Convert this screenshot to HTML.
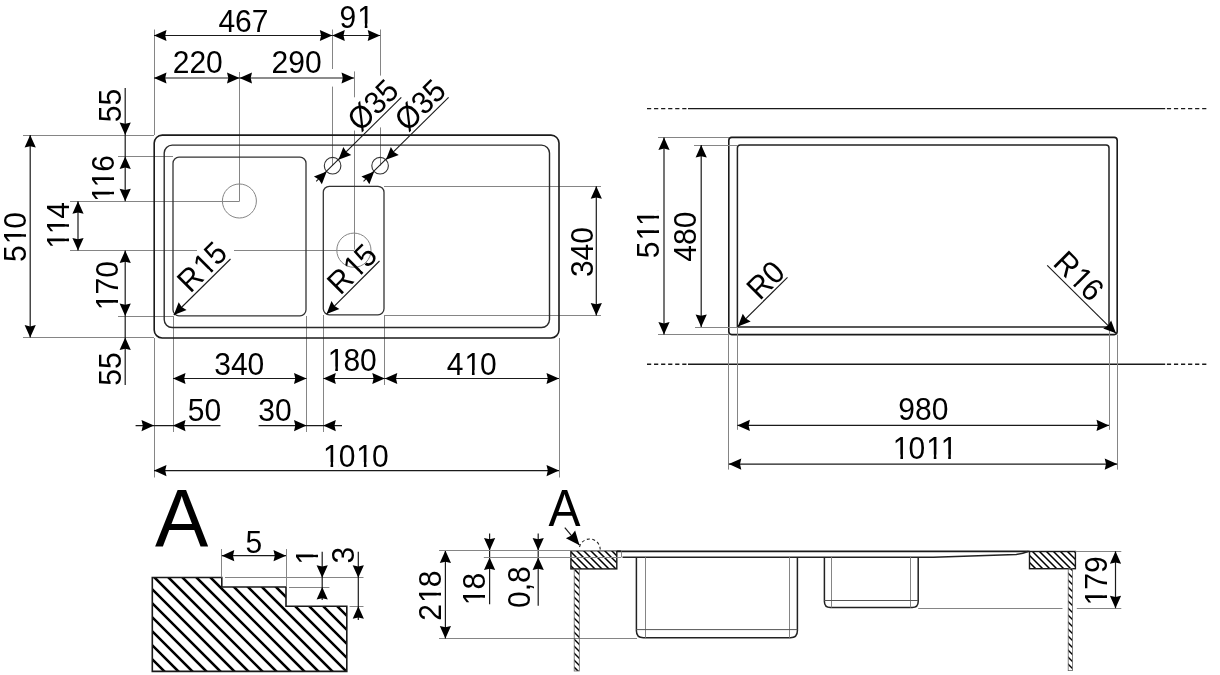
<!DOCTYPE html>
<html><head><meta charset="utf-8"><style>
html,body{margin:0;padding:0;background:#fff;}
svg{display:block;will-change:transform;}
text{font-family:"Liberation Sans",sans-serif;}
</style></head><body>
<svg width="1220" height="675" viewBox="0 0 1220 675">
<rect width="1220" height="675" fill="#fff"/>
<line x1="23.00" y1="135.50" x2="154.00" y2="135.50" stroke="#858585" stroke-width="1.0" />
<line x1="23.00" y1="337.50" x2="154.00" y2="337.50" stroke="#858585" stroke-width="1.0" />
<line x1="118.00" y1="156.50" x2="173.00" y2="156.50" stroke="#858585" stroke-width="1.0" />
<line x1="118.00" y1="316.50" x2="173.00" y2="316.50" stroke="#858585" stroke-width="1.0" />
<line x1="70.00" y1="201.50" x2="239.50" y2="201.50" stroke="#858585" stroke-width="1.0" />
<line x1="70.00" y1="250.50" x2="197.00" y2="250.50" stroke="#858585" stroke-width="1.0" />
<line x1="234.00" y1="250.50" x2="354.00" y2="250.50" stroke="#858585" stroke-width="1.0" />
<line x1="384.00" y1="186.50" x2="601.00" y2="186.50" stroke="#858585" stroke-width="1.0" />
<line x1="384.00" y1="315.50" x2="601.00" y2="315.50" stroke="#858585" stroke-width="1.0" />
<line x1="154.50" y1="29.50" x2="154.50" y2="135.00" stroke="#858585" stroke-width="1.0" />
<line x1="154.50" y1="338.00" x2="154.50" y2="477.50" stroke="#858585" stroke-width="1.0" />
<line x1="239.50" y1="72.00" x2="239.50" y2="201.30" stroke="#858585" stroke-width="1.0" />
<line x1="332.50" y1="29.50" x2="332.50" y2="69.00" stroke="#858585" stroke-width="1.0" />
<line x1="332.50" y1="86.60" x2="332.50" y2="165.60" stroke="#858585" stroke-width="1.0" />
<line x1="354.50" y1="71.40" x2="354.50" y2="97.30" stroke="#858585" stroke-width="1.0" />
<line x1="354.50" y1="130.50" x2="354.50" y2="249.60" stroke="#858585" stroke-width="1.0" />
<line x1="380.50" y1="29.50" x2="380.50" y2="75.60" stroke="#858585" stroke-width="1.0" />
<line x1="380.50" y1="127.40" x2="380.50" y2="165.60" stroke="#858585" stroke-width="1.0" />
<line x1="173.50" y1="316.00" x2="173.50" y2="432.00" stroke="#858585" stroke-width="1.0" />
<line x1="306.50" y1="316.00" x2="306.50" y2="432.00" stroke="#858585" stroke-width="1.0" />
<line x1="323.50" y1="315.00" x2="323.50" y2="432.00" stroke="#858585" stroke-width="1.0" />
<line x1="384.50" y1="315.00" x2="384.50" y2="385.00" stroke="#858585" stroke-width="1.0" />
<line x1="559.50" y1="338.00" x2="559.50" y2="477.50" stroke="#858585" stroke-width="1.0" />
<rect x="154.20" y="135.10" width="404.80" height="202.90" rx="8" fill="none" stroke="#1a1a1a" stroke-width="1.6"/>
<rect x="164.20" y="145.10" width="385.30" height="182.40" rx="8" fill="none" stroke="#2a2a2a" stroke-width="1.4"/>
<rect x="173.00" y="157.20" width="133.00" height="158.60" rx="6" fill="none" stroke="#333" stroke-width="1.3"/>
<rect x="323.30" y="186.30" width="60.70" height="128.50" rx="6" fill="none" stroke="#333" stroke-width="1.3"/>
<circle cx="239.40" cy="201.00" r="17.00" fill="none" stroke="#858585" stroke-width="1.0"/>
<circle cx="353.90" cy="250.20" r="17.10" fill="none" stroke="#858585" stroke-width="1.0"/>
<circle cx="332.60" cy="165.70" r="8.30" fill="none" stroke="#333" stroke-width="1.1"/>
<circle cx="380.10" cy="165.70" r="8.30" fill="none" stroke="#333" stroke-width="1.1"/>
<line x1="154.00" y1="35.50" x2="332.30" y2="35.50" stroke="#1a1a1a" stroke-width="1.2" />
<polygon points="154.00,35.50 166.50,29.90 165.20,35.50 166.50,41.10" fill="#000"/>
<polygon points="332.30,35.50 319.80,41.10 321.10,35.50 319.80,29.90" fill="#000"/>
<g transform="translate(243.00,21.00) rotate(0) scale(1,1.06)"><text x="-24.62" y="10.33" font-size="30" fill="#000">467</text></g>
<line x1="332.30" y1="35.50" x2="380.20" y2="35.50" stroke="#1a1a1a" stroke-width="1.2" />
<polygon points="332.30,35.50 344.80,29.90 343.50,35.50 344.80,41.10" fill="#000"/>
<polygon points="380.20,35.50 367.70,41.10 369.00,35.50 367.70,29.90" fill="#000"/>
<g transform="translate(356.70,17.20) rotate(0) scale(1,1.06)"><clipPath id="c1_1"><path clip-rule="evenodd" d="M-500,-500 H500 V500 H-500 Z M1.99,5.93 H8.07 V12.52 H1.99 Z M10.72,5.93 H16.35 V12.52 H10.72 Z"/></clipPath><text x="-17.15" y="10.33" dx="0.000 0.996" font-size="30" fill="#000" clip-path="url(#c1_1)">91</text></g>
<line x1="154.00" y1="78.00" x2="239.50" y2="78.00" stroke="#1a1a1a" stroke-width="1.2" />
<polygon points="154.00,78.00 166.50,72.40 165.20,78.00 166.50,83.60" fill="#000"/>
<polygon points="239.50,78.00 227.00,83.60 228.30,78.00 227.00,72.40" fill="#000"/>
<g transform="translate(197.90,62.30) rotate(0) scale(1,1.06)"><text x="-25.20" y="10.33" font-size="30" fill="#000">220</text></g>
<line x1="239.50" y1="78.00" x2="354.00" y2="78.00" stroke="#1a1a1a" stroke-width="1.2" />
<polygon points="239.50,78.00 252.00,72.40 250.70,78.00 252.00,83.60" fill="#000"/>
<polygon points="354.00,78.00 341.50,83.60 342.80,78.00 341.50,72.40" fill="#000"/>
<g transform="translate(296.80,62.30) rotate(0) scale(1,1.06)"><text x="-25.20" y="10.33" font-size="30" fill="#000">290</text></g>
<line x1="125.20" y1="88.00" x2="125.20" y2="201.30" stroke="#1a1a1a" stroke-width="1.2" />
<polygon points="125.20,135.00 119.60,122.50 125.20,123.80 130.80,122.50" fill="#000"/>
<polygon points="125.20,156.40 130.80,168.90 125.20,167.60 119.60,168.90" fill="#000"/>
<polygon points="125.20,201.30 119.60,188.80 125.20,190.10 130.80,188.80" fill="#000"/>
<line x1="125.20" y1="250.50" x2="125.20" y2="385.00" stroke="#1a1a1a" stroke-width="1.2" />
<polygon points="125.20,250.50 130.80,263.00 125.20,261.70 119.60,263.00" fill="#000"/>
<polygon points="125.20,316.00 119.60,303.50 125.20,304.80 130.80,303.50" fill="#000"/>
<polygon points="125.20,337.60 130.80,350.10 125.20,348.80 119.60,350.10" fill="#000"/>
<g transform="translate(110.10,105.50) rotate(-90) scale(1,1.06)"><text x="-16.66" y="10.17" font-size="30" fill="#000">55</text></g>
<g transform="translate(103.40,178.00) rotate(-90) scale(1,1.06)"><clipPath id="c1_2"><path clip-rule="evenodd" d="M-500,-500 H500 V500 H-500 Z M-22.43,5.93 H-16.35 V12.52 H-22.43 Z M-13.70,5.93 H-8.08 V12.52 H-13.70 Z M-7.98,5.93 H-1.90 V12.52 H-7.98 Z M0.75,5.93 H6.38 V12.52 H0.75 Z"/></clipPath><text x="-24.90" y="10.33" dx="0.996 0.000 -0.996" font-size="30" fill="#000" clip-path="url(#c1_2)">116</text></g>
<g transform="translate(106.90,285.10) rotate(-90) scale(1,1.06)"><clipPath id="c1_3"><path clip-rule="evenodd" d="M-500,-500 H500 V500 H-500 Z M-23.62,5.93 H-17.54 V12.52 H-23.62 Z M-14.89,5.93 H-9.27 V12.52 H-14.89 Z"/></clipPath><text x="-26.08" y="10.33" dx="0.996 -0.996 0.000" font-size="30" fill="#000" clip-path="url(#c1_3)">170</text></g>
<g transform="translate(110.10,369.10) rotate(-90) scale(1,1.06)"><text x="-16.66" y="10.17" font-size="30" fill="#000">55</text></g>
<line x1="78.00" y1="201.30" x2="78.00" y2="250.50" stroke="#1a1a1a" stroke-width="1.2" />
<polygon points="78.00,201.30 83.60,213.80 78.00,212.50 72.40,213.80" fill="#000"/>
<polygon points="78.00,250.50 72.40,238.00 78.00,239.30 83.60,238.00" fill="#000"/>
<g transform="translate(58.40,224.70) rotate(-90) scale(1,1.06)"><clipPath id="c1_4"><path clip-rule="evenodd" d="M-500,-500 H500 V500 H-500 Z M-22.65,5.93 H-16.57 V12.52 H-22.65 Z M-13.92,5.93 H-8.30 V12.52 H-13.92 Z M-8.20,5.93 H-2.12 V12.52 H-8.20 Z M0.53,5.93 H6.16 V12.52 H0.53 Z"/></clipPath><text x="-25.11" y="10.32" dx="0.996 0.000 -0.996" font-size="30" fill="#000" clip-path="url(#c1_4)">114</text></g>
<line x1="30.20" y1="135.00" x2="30.20" y2="337.60" stroke="#1a1a1a" stroke-width="1.2" />
<polygon points="30.20,135.00 35.80,147.50 30.20,146.20 24.60,147.50" fill="#000"/>
<polygon points="30.20,337.60 24.60,325.10 30.20,326.40 35.80,325.10" fill="#000"/>
<g transform="translate(15.00,237.00) rotate(-90) scale(1,1.06)"><clipPath id="c1_5"><path clip-rule="evenodd" d="M-500,-500 H500 V500 H-500 Z M-5.90,5.93 H0.18 V12.52 H-5.90 Z M2.83,5.93 H8.46 V12.52 H2.83 Z"/></clipPath><text x="-25.04" y="10.33" dx="0.000 0.996 -0.996" font-size="30" fill="#000" clip-path="url(#c1_5)">510</text></g>
<line x1="173.00" y1="378.50" x2="306.50" y2="378.50" stroke="#1a1a1a" stroke-width="1.2" />
<polygon points="173.00,378.50 185.50,372.90 184.20,378.50 185.50,384.10" fill="#000"/>
<polygon points="306.50,378.50 294.00,384.10 295.30,378.50 294.00,372.90" fill="#000"/>
<g transform="translate(239.20,363.70) rotate(0) scale(1,1.06)"><text x="-25.01" y="10.33" font-size="30" fill="#000">340</text></g>
<line x1="323.30" y1="378.50" x2="384.80" y2="378.50" stroke="#1a1a1a" stroke-width="1.2" />
<polygon points="323.30,378.50 335.80,372.90 334.50,378.50 335.80,384.10" fill="#000"/>
<polygon points="384.80,378.50 372.30,384.10 373.60,378.50 372.30,372.90" fill="#000"/>
<g transform="translate(352.80,360.30) rotate(0) scale(1,1.06)"><clipPath id="c1_6"><path clip-rule="evenodd" d="M-500,-500 H500 V500 H-500 Z M-23.62,5.93 H-17.54 V12.52 H-23.62 Z M-14.89,5.93 H-9.27 V12.52 H-14.89 Z"/></clipPath><text x="-26.08" y="10.33" dx="0.996 -0.996 0.000" font-size="30" fill="#000" clip-path="url(#c1_6)">180</text></g>
<line x1="384.80" y1="378.50" x2="559.00" y2="378.50" stroke="#1a1a1a" stroke-width="1.2" />
<polygon points="384.80,378.50 397.30,372.90 396.00,378.50 397.30,384.10" fill="#000"/>
<polygon points="559.00,378.50 546.50,384.10 547.80,378.50 546.50,372.90" fill="#000"/>
<g transform="translate(471.50,363.70) rotate(0) scale(1,1.06)"><clipPath id="c1_7"><path clip-rule="evenodd" d="M-500,-500 H500 V500 H-500 Z M-5.64,5.93 H0.44 V12.52 H-5.64 Z M3.09,5.93 H8.72 V12.52 H3.09 Z"/></clipPath><text x="-24.79" y="10.33" dx="0.000 0.996 -0.996" font-size="30" fill="#000" clip-path="url(#c1_7)">410</text></g>
<line x1="135.60" y1="425.60" x2="220.50" y2="425.60" stroke="#1a1a1a" stroke-width="1.2" />
<polygon points="154.00,425.60 141.50,431.20 142.80,425.60 141.50,420.00" fill="#000"/>
<polygon points="173.00,425.60 185.50,420.00 184.20,425.60 185.50,431.20" fill="#000"/>
<g transform="translate(204.50,410.50) rotate(0) scale(1,1.06)"><text x="-16.70" y="10.33" font-size="30" fill="#000">50</text></g>
<line x1="258.60" y1="425.60" x2="342.00" y2="425.60" stroke="#1a1a1a" stroke-width="1.2" />
<polygon points="306.50,425.60 294.00,431.20 295.30,425.60 294.00,420.00" fill="#000"/>
<polygon points="323.30,425.60 335.80,420.00 334.50,425.60 335.80,431.20" fill="#000"/>
<g transform="translate(275.00,410.50) rotate(0) scale(1,1.06)"><text x="-16.67" y="10.33" font-size="30" fill="#000">30</text></g>
<line x1="154.00" y1="470.60" x2="559.00" y2="470.60" stroke="#1a1a1a" stroke-width="1.2" />
<polygon points="154.00,470.60 166.50,465.00 165.20,470.60 166.50,476.20" fill="#000"/>
<polygon points="559.00,470.60 546.50,476.20 547.80,470.60 546.50,465.00" fill="#000"/>
<g transform="translate(356.40,455.60) rotate(0) scale(1,1.06)"><clipPath id="c1_8"><path clip-rule="evenodd" d="M-500,-500 H500 V500 H-500 Z M-31.96,5.93 H-25.88 V12.52 H-31.96 Z M-23.23,5.93 H-17.61 V12.52 H-23.23 Z M1.41,5.93 H7.49 V12.52 H1.41 Z M10.14,5.93 H15.76 V12.52 H10.14 Z"/></clipPath><text x="-34.42" y="10.33" dx="0.996 -0.996 0.996 -0.996" font-size="30" fill="#000" clip-path="url(#c1_8)">1010</text></g>
<line x1="596.30" y1="186.30" x2="596.30" y2="315.50" stroke="#1a1a1a" stroke-width="1.2" />
<polygon points="596.30,186.30 601.90,198.80 596.30,197.50 590.70,198.80" fill="#000"/>
<polygon points="596.30,315.50 590.70,303.00 596.30,304.30 601.90,303.00" fill="#000"/>
<g transform="translate(581.60,252.10) rotate(-90) scale(1,1.06)"><text x="-25.01" y="10.33" font-size="30" fill="#000">340</text></g>
<line x1="173.80" y1="315.00" x2="230.50" y2="259.00" stroke="#1a1a1a" stroke-width="1.1" />
<polygon points="173.80,315.00 178.68,302.20 181.72,307.08 186.60,310.12" fill="#000"/>
<g transform="translate(202.50,266.40) rotate(-45) scale(1,1.06)"><clipPath id="c1_9"><path clip-rule="evenodd" d="M-500,-500 H500 V500 H-500 Z M-3.99,5.78 H2.09 V12.37 H-3.99 Z M4.74,5.78 H10.36 V12.37 H4.74 Z"/></clipPath><text x="-28.12" y="10.17" dx="0.000 0.996 -0.996" font-size="30" fill="#000" clip-path="url(#c1_9)">R15</text></g>
<line x1="326.60" y1="313.90" x2="379.50" y2="261.00" stroke="#1a1a1a" stroke-width="1.1" />
<polygon points="326.60,313.90 331.48,301.10 334.52,305.98 339.40,309.02" fill="#000"/>
<g transform="translate(352.50,268.60) rotate(-45) scale(1,1.06)"><clipPath id="c1_10"><path clip-rule="evenodd" d="M-500,-500 H500 V500 H-500 Z M-3.99,5.78 H2.09 V12.37 H-3.99 Z M4.74,5.78 H10.36 V12.37 H4.74 Z"/></clipPath><text x="-28.12" y="10.17" dx="0.000 0.996 -0.996" font-size="30" fill="#000" clip-path="url(#c1_10)">R15</text></g>
<line x1="401.30" y1="97.30" x2="316.20" y2="181.40" stroke="#1a1a1a" stroke-width="1.1" />
<polygon points="338.47,159.83 343.35,147.03 346.39,151.91 351.27,154.95" fill="#000"/>
<polygon points="326.73,171.57 321.85,184.37 318.81,179.49 313.93,176.45" fill="#000"/>
<line x1="448.60" y1="97.30" x2="363.50" y2="181.40" stroke="#1a1a1a" stroke-width="1.1" />
<polygon points="385.97,159.83 390.85,147.03 393.89,151.91 398.77,154.95" fill="#000"/>
<polygon points="374.23,171.57 369.35,184.37 366.31,179.49 361.43,176.45" fill="#000"/>
<g transform="translate(372.70,105.00) rotate(-45) scale(1,1.06)"><text x="-28.24" y="10.35" font-size="30" fill="#000">Ø35</text></g>
<g transform="translate(420.00,105.00) rotate(-45) scale(1,1.06)"><text x="-28.24" y="10.35" font-size="30" fill="#000">Ø35</text></g>
<line x1="647.00" y1="108.60" x2="688.00" y2="108.60" stroke="#1a1a1a" stroke-width="1.4" stroke-dasharray="4.2,2.85"/>
<line x1="688.00" y1="108.60" x2="1165.20" y2="108.60" stroke="#1a1a1a" stroke-width="1.4" />
<line x1="1166.90" y1="108.60" x2="1206.50" y2="108.60" stroke="#1a1a1a" stroke-width="1.4" stroke-dasharray="4.2,2.85"/>
<line x1="647.00" y1="364.20" x2="688.00" y2="364.20" stroke="#1a1a1a" stroke-width="1.4" stroke-dasharray="4.2,2.85"/>
<line x1="688.00" y1="364.20" x2="1165.20" y2="364.20" stroke="#1a1a1a" stroke-width="1.4" />
<line x1="1166.90" y1="364.20" x2="1206.50" y2="364.20" stroke="#1a1a1a" stroke-width="1.4" stroke-dasharray="4.2,2.85"/>
<rect x="728.80" y="137.40" width="388.40" height="197.20" rx="3" fill="none" stroke="#1a1a1a" stroke-width="1.6"/>
<path d="M737.4,327 L737.4,148 Q737.4,145 740.4,145 L1106,145 Q1109,145 1109,148 L1109,327 Z" fill="none" stroke="#222" stroke-width="1.5" />
<line x1="658.00" y1="137.50" x2="729.00" y2="137.50" stroke="#858585" stroke-width="1.0" />
<line x1="694.00" y1="145.50" x2="737.40" y2="145.50" stroke="#858585" stroke-width="1.0" />
<line x1="695.00" y1="327.50" x2="737.40" y2="327.50" stroke="#858585" stroke-width="1.0" />
<line x1="658.00" y1="334.50" x2="728.80" y2="334.50" stroke="#858585" stroke-width="1.0" />
<line x1="728.50" y1="334.60" x2="728.50" y2="469.60" stroke="#858585" stroke-width="1.0" />
<line x1="737.50" y1="327.00" x2="737.50" y2="429.80" stroke="#858585" stroke-width="1.0" />
<line x1="1109.50" y1="328.00" x2="1109.50" y2="429.80" stroke="#858585" stroke-width="1.0" />
<line x1="1117.50" y1="334.60" x2="1117.50" y2="469.60" stroke="#858585" stroke-width="1.0" />
<line x1="664.00" y1="137.40" x2="664.00" y2="334.60" stroke="#1a1a1a" stroke-width="1.2" />
<polygon points="664.00,137.40 669.60,149.90 664.00,148.60 658.40,149.90" fill="#000"/>
<polygon points="664.00,334.60 658.40,322.10 664.00,323.40 669.60,322.10" fill="#000"/>
<g transform="translate(648.00,233.90) rotate(-90) scale(1,1.06)"><clipPath id="c1_11"><path clip-rule="evenodd" d="M-500,-500 H500 V500 H-500 Z M-5.13,5.78 H0.94 V12.37 H-5.13 Z M3.60,5.78 H9.22 V12.37 H3.60 Z M9.32,5.78 H15.40 V12.37 H9.32 Z M18.05,5.78 H23.68 V12.37 H18.05 Z"/></clipPath><text x="-24.28" y="10.17" dx="0.000 0.996 0.000" font-size="30" fill="#000" clip-path="url(#c1_11)">511</text></g>
<line x1="701.20" y1="145.00" x2="701.20" y2="327.00" stroke="#1a1a1a" stroke-width="1.2" />
<polygon points="701.20,145.00 706.80,157.50 701.20,156.20 695.60,157.50" fill="#000"/>
<polygon points="701.20,327.00 695.60,314.50 701.20,315.80 706.80,314.50" fill="#000"/>
<g transform="translate(684.90,236.90) rotate(-90) scale(1,1.06)"><text x="-24.79" y="10.33" font-size="30" fill="#000">480</text></g>
<line x1="737.40" y1="425.40" x2="1109.00" y2="425.40" stroke="#1a1a1a" stroke-width="1.2" />
<polygon points="737.40,425.40 749.90,419.80 748.60,425.40 749.90,431.00" fill="#000"/>
<polygon points="1109.00,425.40 1096.50,431.00 1097.80,425.40 1096.50,419.80" fill="#000"/>
<g transform="translate(923.50,409.00) rotate(0) scale(1,1.06)"><text x="-25.14" y="10.33" font-size="30" fill="#000">980</text></g>
<line x1="728.80" y1="464.10" x2="1117.20" y2="464.10" stroke="#1a1a1a" stroke-width="1.2" />
<polygon points="728.80,464.10 741.30,458.50 740.00,464.10 741.30,469.70" fill="#000"/>
<polygon points="1117.20,464.10 1104.70,469.70 1106.00,464.10 1104.70,458.50" fill="#000"/>
<g transform="translate(925.50,448.30) rotate(0) scale(1,1.06)"><clipPath id="c1_12"><path clip-rule="evenodd" d="M-500,-500 H500 V500 H-500 Z M-31.20,5.93 H-25.12 V12.52 H-31.20 Z M-22.47,5.93 H-16.85 V12.52 H-22.47 Z M2.17,5.93 H8.25 V12.52 H2.17 Z M10.90,5.93 H16.52 V12.52 H10.90 Z M16.63,5.93 H22.71 V12.52 H16.63 Z M25.36,5.93 H30.98 V12.52 H25.36 Z"/></clipPath><text x="-33.66" y="10.33" dx="0.996 -0.996 0.996 0.000" font-size="30" fill="#000" clip-path="url(#c1_12)">1011</text></g>
<line x1="737.90" y1="326.50" x2="787.50" y2="277.40" stroke="#1a1a1a" stroke-width="1.1" />
<polygon points="737.90,326.50 742.78,313.70 745.82,318.58 750.70,321.62" fill="#000"/>
<g transform="translate(766.00,279.50) rotate(-45) scale(1,1.06)"><text x="-19.82" y="10.33" font-size="30" fill="#000">R0</text></g>
<line x1="1047.20" y1="265.30" x2="1116.00" y2="333.30" stroke="#1a1a1a" stroke-width="1.1" />
<polygon points="1116.00,333.30 1103.20,328.42 1108.08,325.38 1111.12,320.50" fill="#000"/>
<g transform="translate(1079.30,276.30) rotate(45) scale(1,1.06)"><clipPath id="c1_13"><path clip-rule="evenodd" d="M-500,-500 H500 V500 H-500 Z M-3.96,5.93 H2.12 V12.52 H-3.96 Z M4.77,5.93 H10.39 V12.52 H4.77 Z"/></clipPath><text x="-28.09" y="10.33" dx="0.000 0.996 -0.996" font-size="30" fill="#000" clip-path="url(#c1_13)">R16</text></g>
<defs><clipPath id="cpA"><path d="M152.3,577.5 L221.8,577.5 L221.8,587 L286,587 L286,606.3 L346.8,606.3 L346.8,671.4 L152.3,671.4 Z"/></clipPath><clipPath id="cpB"><rect x="570.9" y="550.7" width="45.9" height="18.2"/><rect x="1029.5" y="551.5" width="45.9" height="17.2"/></clipPath><clipPath id="cpW"><rect x="574.2" y="569" width="5.1" height="102"/><rect x="1068.2" y="568.7" width="4.3" height="102"/></clipPath></defs>
<path d="M100,663 L400,963 M100,649 L400,949 M100,635 L400,935 M100,621 L400,921 M100,607 L400,907 M100,593 L400,893 M100,579 L400,879 M100,565 L400,865 M100,551 L400,851 M100,537 L400,837 M100,523 L400,823 M100,509 L400,809 M100,495 L400,795 M100,481 L400,781 M100,467 L400,767 M100,453 L400,753 M100,439 L400,739 M100,425 L400,725 M100,411 L400,711 M100,397 L400,697 M100,383 L400,683 M100,369 L400,669 M100,355 L400,655 M100,341 L400,641 M100,327 L400,627 M100,313 L400,613 M100,299 L400,599 M100,285 L400,585 M100,271 L400,571 M100,257 L400,557 M100,243 L400,543 M100,229 L400,529 M100,215 L400,515 M100,201 L400,501 M100,187 L400,487 M100,173 L400,473 M100,159 L400,459 M100,145 L400,445 M100,131 L400,431 M100,117 L400,417 M100,103 L400,403" stroke="#000" stroke-width="2.6" clip-path="url(#cpA)"/>
<path d="M152.3,577.5 L221.8,577.5 L221.8,587 L286,587 L286,606.3 L346.8,606.3 L346.8,671.4 L152.3,671.4 Z" fill="none" stroke="#1a1a1a" stroke-width="1.6" />
<g transform="translate(181.70,518.20) rotate(0) scale(1,1.025)"><text x="-26.68" y="27.52" font-size="80" fill="#000">A</text></g>
<line x1="221.50" y1="549.00" x2="221.50" y2="577.50" stroke="#858585" stroke-width="1.0" />
<line x1="286.50" y1="549.00" x2="286.50" y2="587.00" stroke="#858585" stroke-width="1.0" />
<line x1="225.00" y1="577.50" x2="363.50" y2="577.50" stroke="#858585" stroke-width="1.0" />
<line x1="289.00" y1="587.50" x2="329.40" y2="587.50" stroke="#858585" stroke-width="1.0" />
<line x1="349.60" y1="606.50" x2="363.50" y2="606.50" stroke="#858585" stroke-width="1.0" />
<line x1="221.80" y1="555.70" x2="286.00" y2="555.70" stroke="#1a1a1a" stroke-width="1.2" />
<polygon points="221.80,555.70 234.30,550.10 233.00,555.70 234.30,561.30" fill="#000"/>
<polygon points="286.00,555.70 273.50,561.30 274.80,555.70 273.50,550.10" fill="#000"/>
<g transform="translate(253.70,542.30) rotate(0) scale(1,1.06)"><text x="-8.31" y="10.17" font-size="30" fill="#000">5</text></g>
<line x1="322.20" y1="551.70" x2="322.20" y2="600.00" stroke="#1a1a1a" stroke-width="1.2" />
<polygon points="322.20,577.70 316.60,565.20 322.20,566.50 327.80,565.20" fill="#000"/>
<polygon points="322.20,587.00 327.80,599.50 322.20,598.20 316.60,599.50" fill="#000"/>
<g transform="translate(307.00,556.10) rotate(-90) scale(1,1.06)"><clipPath id="c1_14"><path clip-rule="evenodd" d="M-500,-500 H500 V500 H-500 Z M-7.29,5.93 H-1.21 V12.52 H-7.29 Z M1.44,5.93 H7.07 V12.52 H1.44 Z"/></clipPath><text x="-9.75" y="10.32" dx="0.996" font-size="30" fill="#000" clip-path="url(#c1_14)">1</text></g>
<line x1="358.30" y1="551.70" x2="358.30" y2="620.00" stroke="#1a1a1a" stroke-width="1.2" />
<polygon points="358.30,577.70 352.70,565.20 358.30,566.50 363.90,565.20" fill="#000"/>
<polygon points="358.30,606.30 363.90,618.80 358.30,617.50 352.70,618.80" fill="#000"/>
<g transform="translate(342.80,555.30) rotate(-90) scale(1,1.06)"><text x="-8.25" y="10.33" font-size="30" fill="#000">3</text></g>
<line x1="439.00" y1="638.50" x2="637.00" y2="638.50" stroke="#858585" stroke-width="1.0" />
<line x1="445.40" y1="550.50" x2="445.40" y2="638.40" stroke="#1a1a1a" stroke-width="1.2" />
<polygon points="445.40,550.50 451.00,563.00 445.40,561.70 439.80,563.00" fill="#000"/>
<polygon points="445.40,638.40 439.80,625.90 445.40,627.20 451.00,625.90" fill="#000"/>
<g transform="translate(430.30,595.50) rotate(-90) scale(1,1.06)"><clipPath id="c1_15"><path clip-rule="evenodd" d="M-500,-500 H500 V500 H-500 Z M-5.98,5.93 H0.10 V12.52 H-5.98 Z M2.75,5.93 H8.37 V12.52 H2.75 Z"/></clipPath><text x="-25.13" y="10.33" dx="0.000 0.996 -0.996" font-size="30" fill="#000" clip-path="url(#c1_15)">218</text></g>
<line x1="489.60" y1="533.50" x2="489.60" y2="604.30" stroke="#1a1a1a" stroke-width="1.2" />
<polygon points="489.60,550.50 484.00,538.00 489.60,539.30 495.20,538.00" fill="#000"/>
<polygon points="489.60,557.50 495.20,570.00 489.60,568.70 484.00,570.00" fill="#000"/>
<g transform="translate(473.70,588.50) rotate(-90) scale(1,1.06)"><clipPath id="c1_16"><path clip-rule="evenodd" d="M-500,-500 H500 V500 H-500 Z M-15.21,5.93 H-9.13 V12.52 H-15.21 Z M-6.48,5.93 H-0.86 V12.52 H-6.48 Z"/></clipPath><text x="-17.67" y="10.33" dx="0.996 -0.996" font-size="30" fill="#000" clip-path="url(#c1_16)">18</text></g>
<line x1="538.20" y1="533.50" x2="538.20" y2="605.70" stroke="#1a1a1a" stroke-width="1.2" />
<polygon points="538.20,550.50 532.60,538.00 538.20,539.30 543.80,538.00" fill="#000"/>
<polygon points="538.20,557.50 543.80,570.00 538.20,568.70 532.60,570.00" fill="#000"/>
<g transform="translate(521.40,587.20) rotate(-90) scale(1,1.06)"><text x="-20.79" y="8.55" font-size="30" fill="#000">0,8</text></g>
<g transform="translate(564.50,508.20) rotate(0) scale(1,1.09)"><text x="-16.01" y="16.51" font-size="48" fill="#000">A</text></g>
<line x1="564.80" y1="527.60" x2="579.50" y2="545.20" stroke="#1a1a1a" stroke-width="1.2" />
<polygon points="579.50,545.20 565.92,538.30 571.36,535.45 575.13,530.61" fill="#000"/>
<path d="M579.5,547 A10.5,10.5 0 0 1 600.2,549.5" fill="none" stroke="#222" stroke-width="1.1" stroke-dasharray="3,2.5"/>
<path d="M500,-100 L1100,500 M500,-93 L1100,507 M500,-86 L1100,514 M500,-79 L1100,521 M500,-72 L1100,528 M500,-65 L1100,535 M500,-58 L1100,542 M500,-51 L1100,549 M500,-44 L1100,556 M500,-37 L1100,563 M500,-30 L1100,570 M500,-23 L1100,577 M500,-16 L1100,584 M500,-9 L1100,591 M500,-2 L1100,598 M500,5 L1100,605 M500,12 L1100,612 M500,19 L1100,619 M500,26 L1100,626 M500,33 L1100,633 M500,40 L1100,640 M500,47 L1100,647 M500,54 L1100,654 M500,61 L1100,661 M500,68 L1100,668 M500,75 L1100,675 M500,82 L1100,682 M500,89 L1100,689 M500,96 L1100,696 M500,103 L1100,703 M500,110 L1100,710 M500,117 L1100,717 M500,124 L1100,724 M500,131 L1100,731 M500,138 L1100,738 M500,145 L1100,745 M500,152 L1100,752 M500,159 L1100,759 M500,166 L1100,766 M500,173 L1100,773 M500,180 L1100,780 M500,187 L1100,787 M500,194 L1100,794 M500,201 L1100,801 M500,208 L1100,808 M500,215 L1100,815 M500,222 L1100,822 M500,229 L1100,829 M500,236 L1100,836 M500,243 L1100,843 M500,250 L1100,850 M500,257 L1100,857 M500,264 L1100,864 M500,271 L1100,871 M500,278 L1100,878 M500,285 L1100,885 M500,292 L1100,892 M500,299 L1100,899 M500,306 L1100,906 M500,313 L1100,913 M500,320 L1100,920 M500,327 L1100,927 M500,334 L1100,934 M500,341 L1100,941 M500,348 L1100,948 M500,355 L1100,955 M500,362 L1100,962 M500,369 L1100,969 M500,376 L1100,976 M500,383 L1100,983 M500,390 L1100,990 M500,397 L1100,997 M500,404 L1100,1004 M500,411 L1100,1011 M500,418 L1100,1018 M500,425 L1100,1025 M500,432 L1100,1032 M500,439 L1100,1039 M500,446 L1100,1046 M500,453 L1100,1053 M500,460 L1100,1060 M500,467 L1100,1067 M500,474 L1100,1074 M500,481 L1100,1081 M500,488 L1100,1088 M500,495 L1100,1095 M500,502 L1100,1102 M500,509 L1100,1109 M500,516 L1100,1116 M500,523 L1100,1123 M500,530 L1100,1130 M500,537 L1100,1137 M500,544 L1100,1144 M500,551 L1100,1151 M500,558 L1100,1158 M500,565 L1100,1165 M500,572 L1100,1172 M500,579 L1100,1179 M500,586 L1100,1186 M500,593 L1100,1193" stroke="#000" stroke-width="1.5" clip-path="url(#cpB)"/>
<rect x="570.90" y="550.70" width="45.90" height="18.20" rx="0" fill="none" stroke="#1a1a1a" stroke-width="1.4"/>
<rect x="1029.50" y="551.50" width="45.90" height="17.20" rx="0" fill="none" stroke="#1a1a1a" stroke-width="1.4"/>
<line x1="439.00" y1="550.50" x2="621.00" y2="550.50" stroke="#858585" stroke-width="1.0" />
<line x1="483.80" y1="557.50" x2="621.00" y2="557.50" stroke="#858585" stroke-width="1.0" />
<path d="M500,-100 L1100,500 M500,-93 L1100,507 M500,-86 L1100,514 M500,-79 L1100,521 M500,-72 L1100,528 M500,-65 L1100,535 M500,-58 L1100,542 M500,-51 L1100,549 M500,-44 L1100,556 M500,-37 L1100,563 M500,-30 L1100,570 M500,-23 L1100,577 M500,-16 L1100,584 M500,-9 L1100,591 M500,-2 L1100,598 M500,5 L1100,605 M500,12 L1100,612 M500,19 L1100,619 M500,26 L1100,626 M500,33 L1100,633 M500,40 L1100,640 M500,47 L1100,647 M500,54 L1100,654 M500,61 L1100,661 M500,68 L1100,668 M500,75 L1100,675 M500,82 L1100,682 M500,89 L1100,689 M500,96 L1100,696 M500,103 L1100,703 M500,110 L1100,710 M500,117 L1100,717 M500,124 L1100,724 M500,131 L1100,731 M500,138 L1100,738 M500,145 L1100,745 M500,152 L1100,752 M500,159 L1100,759 M500,166 L1100,766 M500,173 L1100,773 M500,180 L1100,780 M500,187 L1100,787 M500,194 L1100,794 M500,201 L1100,801 M500,208 L1100,808 M500,215 L1100,815 M500,222 L1100,822 M500,229 L1100,829 M500,236 L1100,836 M500,243 L1100,843 M500,250 L1100,850 M500,257 L1100,857 M500,264 L1100,864 M500,271 L1100,871 M500,278 L1100,878 M500,285 L1100,885 M500,292 L1100,892 M500,299 L1100,899 M500,306 L1100,906 M500,313 L1100,913 M500,320 L1100,920 M500,327 L1100,927 M500,334 L1100,934 M500,341 L1100,941 M500,348 L1100,948 M500,355 L1100,955 M500,362 L1100,962 M500,369 L1100,969 M500,376 L1100,976 M500,383 L1100,983 M500,390 L1100,990 M500,397 L1100,997 M500,404 L1100,1004 M500,411 L1100,1011 M500,418 L1100,1018 M500,425 L1100,1025 M500,432 L1100,1032 M500,439 L1100,1039 M500,446 L1100,1046 M500,453 L1100,1053 M500,460 L1100,1060 M500,467 L1100,1067 M500,474 L1100,1074 M500,481 L1100,1081 M500,488 L1100,1088 M500,495 L1100,1095 M500,502 L1100,1102 M500,509 L1100,1109 M500,516 L1100,1116 M500,523 L1100,1123 M500,530 L1100,1130 M500,537 L1100,1137 M500,544 L1100,1144 M500,551 L1100,1151 M500,558 L1100,1158 M500,565 L1100,1165 M500,572 L1100,1172 M500,579 L1100,1179 M500,586 L1100,1186 M500,593 L1100,1193" stroke="#000" stroke-width="1.5" clip-path="url(#cpW)"/>
<rect x="574.20" y="569.00" width="5.10" height="102.00" rx="0" fill="none" stroke="#666" stroke-width="0.8"/>
<rect x="1068.20" y="568.70" width="4.30" height="101.90" rx="0" fill="none" stroke="#666" stroke-width="0.8"/>
<line x1="616.80" y1="551.30" x2="1029.50" y2="551.30" stroke="#1a1a1a" stroke-width="1.8" />
<line x1="621.50" y1="551.50" x2="621.50" y2="557.30" stroke="#858585" stroke-width="1.0" />
<path d="M622.5,557.3 L933.4,557.3 L1016,554.5 Q1022,554 1028,551.5" fill="none" stroke="#222" stroke-width="1.4" />
<path d="M636.4,557.3 L636.4,630.7 Q636.4,637.7 643.4,637.7 L790.4,637.7 Q797.4,637.7 797.4,630.7 L797.4,557.3" fill="none" stroke="#222" stroke-width="1.5" />
<line x1="645.50" y1="557.30" x2="645.50" y2="637.70" stroke="#858585" stroke-width="1.0" />
<line x1="789.50" y1="557.30" x2="789.50" y2="637.70" stroke="#858585" stroke-width="1.0" />
<line x1="636.40" y1="629.60" x2="797.40" y2="629.60" stroke="#555" stroke-width="1" />
<path d="M824.4,557.3 L824.4,601.5 Q824.4,607.5 830.4,607.5 L912.2,607.5 Q918.2,607.5 918.2,601.5 L918.2,557.3" fill="none" stroke="#222" stroke-width="1.5" />
<line x1="831.50" y1="557.30" x2="831.50" y2="607.50" stroke="#858585" stroke-width="1.0" />
<line x1="910.50" y1="557.30" x2="910.50" y2="607.50" stroke="#858585" stroke-width="1.0" />
<line x1="824.40" y1="600.50" x2="918.20" y2="600.50" stroke="#555" stroke-width="1" />
<line x1="1075.40" y1="551.50" x2="1121.30" y2="551.50" stroke="#858585" stroke-width="1.0" />
<line x1="918.20" y1="608.50" x2="1062.50" y2="608.50" stroke="#858585" stroke-width="1.0" />
<line x1="1076.80" y1="608.50" x2="1121.30" y2="608.50" stroke="#858585" stroke-width="1.0" />
<line x1="1115.50" y1="551.30" x2="1115.50" y2="608.20" stroke="#1a1a1a" stroke-width="1.2" />
<polygon points="1115.50,551.30 1121.10,563.80 1115.50,562.50 1109.90,563.80" fill="#000"/>
<polygon points="1115.50,608.20 1109.90,595.70 1115.50,597.00 1121.10,595.70" fill="#000"/>
<g transform="translate(1096.30,580.50) rotate(-90) scale(1,1.06)"><clipPath id="c1_17"><path clip-rule="evenodd" d="M-500,-500 H500 V500 H-500 Z M-23.50,5.93 H-17.42 V12.52 H-23.50 Z M-14.77,5.93 H-9.14 V12.52 H-14.77 Z"/></clipPath><text x="-25.96" y="10.33" dx="0.996 -0.996 0.000" font-size="30" fill="#000" clip-path="url(#c1_17)">179</text></g>
</svg></body></html>
